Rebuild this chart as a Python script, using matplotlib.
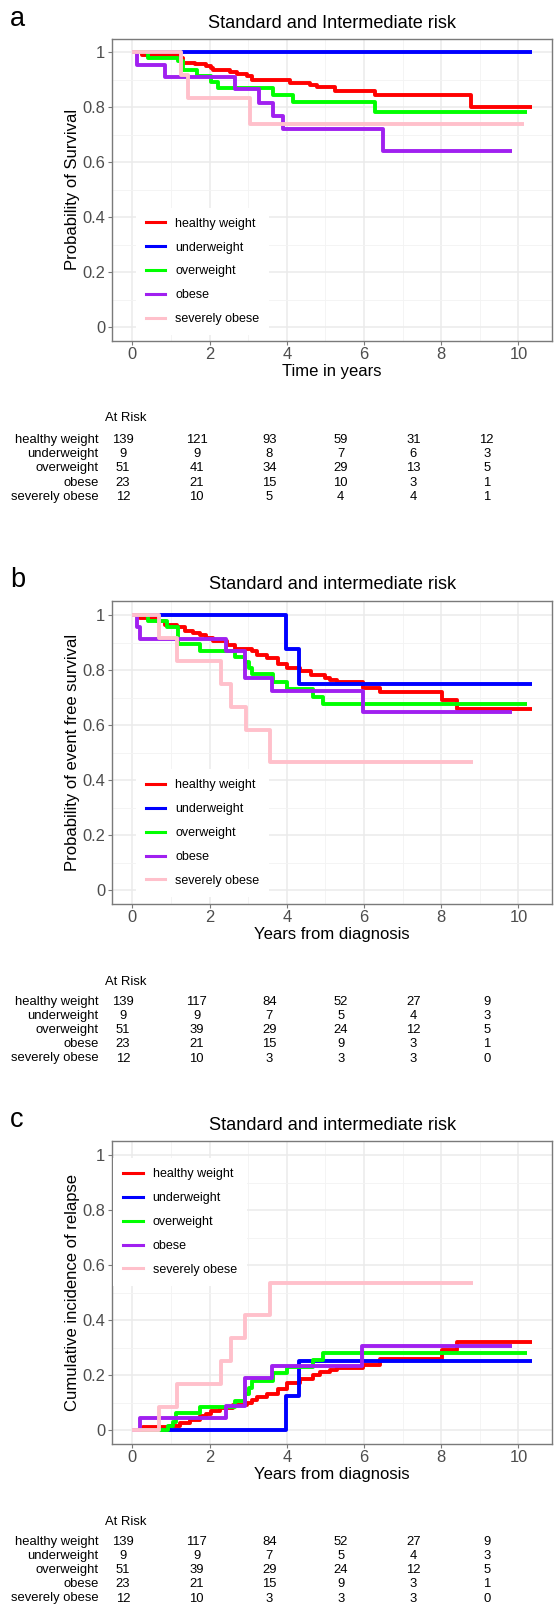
import numpy as np
import matplotlib
matplotlib.use('Agg')
import matplotlib.pyplot as plt
from matplotlib.lines import Line2D

plt.rcParams['font.family'] = ['Liberation Sans', 'DejaVu Sans']

W, H = 557, 1607

groups = ['healthy weight', 'underweight', 'overweight', 'obese', 'severely obese']
colors = ['#FF0000', '#0000FF', '#00FF00', '#A020F0', '#FFC0CB']

# --- panel a: overall survival (step times / survival probability)
os_healthy_t = [0, 0.24, 1.19, 1.32, 1.62, 1.92, 2.05, 2.10, 2.53, 2.70, 2.96, 3.09, 4.08, 4.60, 4.77, 5.25, 6.28, 8.78, 10.35]
os_healthy_p = [1, 0.99, 0.978, 0.963, 0.956, 0.949, 0.942, 0.935, 0.928, 0.92, 0.913, 0.898, 0.89, 0.883, 0.874, 0.86, 0.845, 0.80, 0.80]
os_under_t = [0, 10.35]
os_under_p = [1, 1]
os_over_t = [0, 0.41, 1.19, 1.32, 1.67, 2.03, 2.23, 3.65, 4.17, 6.28, 10.21]
os_over_p = [1, 0.98, 0.97, 0.936, 0.915, 0.893, 0.869, 0.844, 0.82, 0.784, 0.784]
os_obese_t = [0, 0.13, 0.85, 2.66, 3.29, 3.65, 3.89, 6.50, 9.82]
os_obese_p = [1, 0.955, 0.91, 0.866, 0.817, 0.77, 0.722, 0.64, 0.64]
os_severe_t = [0, 1.25, 1.45, 3.05, 10.14]
os_severe_p = [1, 0.917, 0.833, 0.741, 0.741]

# --- panel b: event free survival
efs_healthy_t = [0, 0.2, 0.63, 0.85, 1.15, 1.36, 1.58, 1.75, 1.92, 2.10, 2.44, 2.66, 3.09, 3.22, 3.48, 3.78, 4.00, 4.34, 4.64, 4.99, 5.12, 5.29, 5.98, 6.41, 8.01, 8.40, 10.35]
efs_healthy_p = [1, 0.99, 0.978, 0.964, 0.955, 0.942, 0.935, 0.927, 0.918, 0.905, 0.892, 0.878, 0.869, 0.856, 0.845, 0.821, 0.806, 0.796, 0.782, 0.772, 0.765, 0.758, 0.736, 0.719, 0.691, 0.658, 0.658]
efs_under_t = [0, 3.98, 4.32, 10.35]
efs_under_p = [1, 0.875, 0.75, 0.75]
efs_over_t = [0, 0.41, 0.89, 1.19, 1.75, 2.66, 2.92, 3.03, 3.11, 3.65, 4.00, 4.69, 4.94, 10.21]
efs_over_p = [1, 0.979, 0.958, 0.893, 0.87, 0.848, 0.828, 0.808, 0.785, 0.755, 0.731, 0.703, 0.678, 0.678]
efs_obese_t = [0, 0.13, 0.2, 2.42, 2.92, 3.61, 5.98, 9.82]
efs_obese_p = [1, 0.955, 0.912, 0.87, 0.77, 0.722, 0.648, 0.648]
efs_severe_t = [0, 0.69, 1.15, 2.30, 2.55, 2.94, 3.56, 8.83]
efs_severe_p = [1, 0.917, 0.833, 0.75, 0.667, 0.583, 0.467, 0.467]

# --- panel c: cumulative incidence of relapse
cir_healthy_t = [0, 0.28, 0.97, 1.23, 1.49, 1.75, 1.92, 2.05, 2.27, 2.61, 2.96, 3.09, 3.22, 3.48, 3.78, 4.00, 4.34, 4.69, 4.86, 5.12, 5.29, 5.98, 6.41, 8.01, 8.40, 10.35]
cir_healthy_p = [0, 0.01, 0.015, 0.025, 0.035, 0.05, 0.06, 0.07, 0.08, 0.09, 0.10, 0.11, 0.12, 0.13, 0.15, 0.17, 0.185, 0.20, 0.21, 0.22, 0.225, 0.235, 0.26, 0.29, 0.32, 0.32]
cir_under_t = [0, 3.98, 4.32, 10.35]
cir_under_p = [0, 0.125, 0.25, 0.25]
cir_over_t = [0, 0.76, 0.93, 1.06, 1.12, 1.75, 2.66, 2.92, 3.03, 3.11, 3.65, 4.00, 4.69, 4.94, 10.21]
cir_over_p = [0, 0.0, 0.016, 0.03, 0.063, 0.085, 0.105, 0.131, 0.154, 0.178, 0.206, 0.228, 0.255, 0.28, 0.28]
cir_obese_t = [0, 0.2, 2.42, 2.93, 3.62, 5.94, 9.82]
cir_obese_p = [0, 0.0436, 0.087, 0.188, 0.233, 0.305, 0.305]
cir_severe_t = [0, 0.69, 1.15, 2.30, 2.55, 2.92, 3.56, 8.83]
cir_severe_p = [0, 0.083, 0.167, 0.25, 0.333, 0.417, 0.533, 0.533]

# numbers at risk (years 0, 2, 4, 6, 8, 10)
risk_a_healthy = [139, 121, 93, 59, 31, 12]
risk_a_under = [9, 9, 8, 7, 6, 3]
risk_a_over = [51, 41, 34, 29, 13, 5]
risk_a_obese = [23, 21, 15, 10, 3, 1]
risk_a_severe = [12, 10, 5, 4, 4, 1]

risk_bc_healthy = [139, 117, 84, 52, 27, 9]
risk_bc_under = [9, 9, 7, 5, 4, 3]
risk_bc_over = [51, 39, 29, 24, 12, 5]
risk_bc_obese = [23, 21, 15, 9, 3, 1]
risk_bc_severe = [12, 10, 3, 3, 3, 0]

panels = [
    dict(letter='a', title='Standard and Intermediate risk', ylabel='Probability of Survival',
         xlabel='Time in years',
         curves=[(os_healthy_t, os_healthy_p), (os_under_t, os_under_p), (os_over_t, os_over_p),
                 (os_obese_t, os_obese_p), (os_severe_t, os_severe_p)],
         risk=[risk_a_healthy, risk_a_under, risk_a_over, risk_a_obese, risk_a_severe],
         top=38.6, letter_y=26, title_y=23.5, atrisk_y=418.3, row0_y=440.0,
         leg_x=145.7, leg_y=221.7),
    dict(letter='b', title='Standard and intermediate risk', ylabel='Probability of event free survival',
         xlabel='Years from diagnosis',
         curves=[(efs_healthy_t, efs_healthy_p), (efs_under_t, efs_under_p), (efs_over_t, efs_over_p),
                 (efs_obese_t, efs_obese_p), (efs_severe_t, efs_severe_p)],
         risk=[risk_bc_healthy, risk_bc_under, risk_bc_over, risk_bc_obese, risk_bc_severe],
         top=601.25, letter_y=587, title_y=585.0, atrisk_y=981.7, row0_y=1001.7,
         leg_x=145.7, leg_y=783.3),
    dict(letter='c', title='Standard and intermediate risk', ylabel='Cumulative incidence of relapse',
         xlabel='Years from diagnosis',
         curves=[(cir_healthy_t, cir_healthy_p), (cir_under_t, cir_under_p), (cir_over_t, cir_over_p),
                 (cir_obese_t, cir_obese_p), (cir_severe_t, cir_severe_p)],
         risk=[risk_bc_healthy, risk_bc_under, risk_bc_over, risk_bc_obese, risk_bc_severe],
         top=1141.25, letter_y=1126.7, title_y=1125.0, atrisk_y=1521.7, row0_y=1541.7,
         leg_x=123.3, leg_y=1172.3),
]

fig = plt.figure(figsize=(W / 100, H / 100), dpi=100)
fig.patch.set_facecolor('white')


def fx(x):
    return x / W


def fy(y):
    return 1 - y / H


ax_left, ax_right, ax_h = 112.3, 552.0, 302.5
col_x = [123, 196.7, 269.3, 340.7, 413.3, 486.7]
row_step = 14.2

for pn in panels:
    top = pn['top']
    ax = fig.add_axes([fx(ax_left), fy(top + ax_h), (ax_right - ax_left) / W, ax_h / H])
    for (t, p), c in zip(pn['curves'], colors):
        ax.step(t, p, where='post', color=c, lw=2.8, solid_capstyle='butt')
    ax.set_xlim(-0.5175, 10.8675)
    ax.set_ylim(-0.05, 1.05)
    ax.set_xticks(range(0, 11, 2))
    ax.set_xticks(range(1, 11, 2), minor=True)
    ax.set_yticks([0, 0.2, 0.4, 0.6, 0.8, 1])
    ax.set_yticklabels(['0', '0.2', '0.4', '0.6', '0.8', '1'])
    ax.set_yticks([0.1, 0.3, 0.5, 0.7, 0.9], minor=True)
    ax.grid(which='major', color='#EBEBEB', lw=1.1)
    ax.grid(which='minor', color='#F3F3F3', lw=0.6)
    ax.set_axisbelow(True)
    for s in ax.spines.values():
        s.set_color('#7A7A7A')
        s.set_linewidth(1.0)
    ax.tick_params(which='major', length=3, width=0.8, color='#7A7A7A',
                   labelsize=11.9, labelcolor='#4D4D4D', pad=2)
    ax.tick_params(axis='x', which='major', pad=1.5)
    ax.tick_params(which='minor', length=0)

    handles = [Line2D([], [], color=c, lw=2.2) for c in colors]
    fs = 9.0
    fs_px = fs * 100 / 72
    bp = 0.8
    leg = ax.legend(handles, groups, loc='upper left', fontsize=fs,
                    bbox_to_anchor=(fx(pn['leg_x'] - bp * fs_px), fy(pn['leg_y'] - 4.0 - bp * fs_px)),
                    bbox_transform=fig.transFigure, borderaxespad=0, borderpad=bp,
                    handlelength=1.55, handletextpad=0.8, labelspacing=0.95,
                    frameon=True, facecolor='white', edgecolor='white', framealpha=1, fancybox=False)
    leg.get_frame().set_linewidth(0)

    cx = (ax_left + ax_right) / 2
    fig.text(fx(cx), fy(pn['title_y']), pn['title'], ha='center', va='center', fontsize=13.1)
    fig.text(fx(cx), fy(top + ax_h + 30.6), pn['xlabel'], ha='center', va='center', fontsize=12)
    fig.text(fx(73), fy(top + ax_h / 2), pn['ylabel'], ha='center', va='center', rotation=90, fontsize=12)
    fig.text(fx(10), fy(pn['letter_y']), pn['letter'], ha='left', va='baseline', fontsize=19.5)

    # at-risk table
    fig.text(fx(105), fy(pn['atrisk_y']), 'At Risk', ha='left', va='center', fontsize=9.4)
    for i, (g, counts) in enumerate(zip(groups, pn['risk'])):
        y = pn['row0_y'] + i * row_step
        fig.text(fx(98.5), fy(y), g, ha='right', va='center', fontsize=9.4)
        for x, n in zip(col_x, counts):
            fig.text(fx(x), fy(y), str(n), ha='center', va='center', fontsize=9.4)

fig.savefig('out.png', dpi=100, facecolor='white')
